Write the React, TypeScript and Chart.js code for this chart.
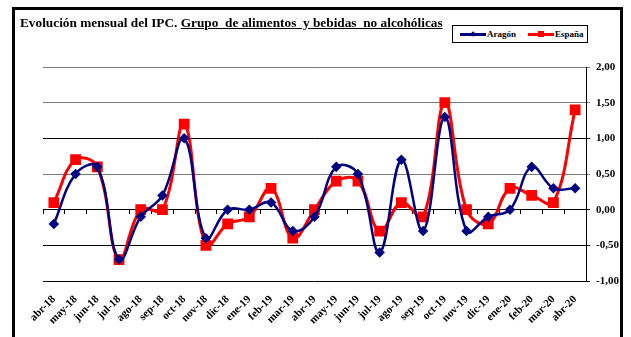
import React, { useEffect, useRef } from 'react';
import { Chart, registerables } from 'chart.js';

Chart.register(...registerables);

const months = [
  'abr-18', 'may-18', 'jun-18', 'jul-18', 'ago-18', 'sep-18', 'oct-18', 'nov-18', 'dic-18',
  'ene-19', 'feb-19', 'mar-19', 'abr-19', 'may-19', 'jun-19', 'jul-19', 'ago-19', 'sep-19',
  'oct-19', 'nov-19', 'dic-19', 'ene-20', 'feb-20', 'mar-20', 'abr-20',
];
const aragon = [
  -0.2, 0.5, 0.6, -0.7, -0.1, 0.2, 1.0, -0.4, 0.0,
  0.0, 0.1, -0.3, -0.1, 0.6, 0.5, -0.6, 0.7, -0.3,
  1.3, -0.3, -0.1, 0.0, 0.6, 0.3, 0.3,
];
const espana = [
  0.1, 0.7, 0.6, -0.7, 0.0, 0.0, 1.2, -0.5, -0.2,
  -0.1, 0.3, -0.4, 0.0, 0.4, 0.4, -0.3, 0.1, -0.1,
  1.5, 0.0, -0.2, 0.3, 0.2, 0.1, 1.4,
];
const seriesNames = ['Aragón', 'España'];
const seriesColors = ['#000080', '#FF0000'];
const yMin = -1;
const yMax = 2;
const yStep = 0.5;
const titlePlain = 'Evolución mensual del IPC.';
const titleUnderlined = 'Grupo  de alimentos  y bebidas  no alcohólicas';

const FONT = '"Liberation Serif", "Times New Roman", serif';

export default function App() {
  const canvasRef = useRef<HTMLCanvasElement | null>(null);

  useEffect(() => {
    const canvas = canvasRef.current;
    if (!canvas) return;
    const chart = new Chart(canvas, {
      type: 'line',
      data: {
        labels: months,
        datasets: [
          {
            label: seriesNames[0],
            data: aragon,
            borderColor: seriesColors[0],
            backgroundColor: seriesColors[0],
            borderWidth: 2.5,
            pointStyle: 'rectRot',
            pointRadius: 3.5,
            tension: 0.4,
            xAxisID: 'x',
          },
          {
            label: seriesNames[1],
            data: espana,
            borderColor: seriesColors[1],
            backgroundColor: seriesColors[1],
            borderWidth: 3,
            pointStyle: 'rect',
            pointRadius: 5.5,
            tension: 0.4,
            xAxisID: 'x',
          },
        ],
      },
      options: {
        responsive: false,
        animation: false,
        devicePixelRatio: 1,
        layout: { padding: { left: 43, top: 67, right: 0, bottom: 0 } },
        plugins: {
          legend: { display: false },
          title: { display: false },
          tooltip: { enabled: false },
        },
        font: { family: FONT },
        scales: {
          x: {
            type: 'category',
            position: 'bottom',
            offset: true,
            grid: { display: false },
            border: { display: false },
            ticks: {
              autoSkip: false,
              maxRotation: 45,
              minRotation: 45,
              padding: 4,
              color: '#000',
              font: { family: FONT, size: 11, weight: 'bold' },
            },
            afterFit: (s: any) => {
              s.height = 56;
            },
          },
          x2: {
            type: 'category',
            axis: 'x',
            position: { y: 0 },
            offset: true,
            grid: {
              offset: true,
              drawOnChartArea: false,
              drawTicks: true,
              tickLength: 4,
              color: '#000',
            },
            border: { display: true, color: '#000', width: 1 },
            ticks: { display: false },
          },
          y: {
            position: 'right',
            min: yMin,
            max: yMax,
            grid: {
              color: (ctx: any) => {
                const v = ctx.tick ? ctx.tick.value : 0;
                if (v === 2 || v === 1.5 || v === 0.5) return '#7a7a7a';
                return '#000';
              },
              lineWidth: 1,
              tickLength: 4,
            },
            border: { display: true, color: '#000', width: 1 },
            ticks: {
              stepSize: yStep,
              padding: 6,
              color: '#000',
              font: { family: FONT, size: 11, weight: 'bold' },
              callback: (v: any) => Number(v).toFixed(2).replace('.', ','),
            },
            afterFit: (s: any) => {
              s.width = 45;
            },
          },
        },
      } as any,
    });
    return () => chart.destroy();
  }, []);

  const legendItem = (i: number) => (
    <div key={i} style={{ display: 'flex', alignItems: 'center', marginRight: i === 0 ? 12 : 0 }}>
      <div style={{ position: 'relative', width: 26, height: 8 }}>
        <div
          style={{
            position: 'absolute',
            left: 0,
            top: 3,
            width: 26,
            height: 2.5,
            background: seriesColors[i],
          }}
        />
        <div
          style={{
            position: 'absolute',
            left: i === 0 ? 11 : 10,
            top: i === 0 ? 2 : 1,
            width: i === 0 ? 4 : 6,
            height: i === 0 ? 4 : 6,
            background: seriesColors[i],
            transform: i === 0 ? 'rotate(45deg)' : 'none',
          }}
        />
      </div>
      <span style={{ fontFamily: FONT, fontWeight: 'bold', fontSize: 9, marginLeft: 1 }}>
        {seriesNames[i]}
      </span>
    </div>
  );

  return (
    <div
      style={{
        position: 'fixed',
        left: 0,
        top: 0,
        width: 631,
        height: 337,
        overflow: 'hidden',
        background: '#fff',
      }}
    >
      <div
        style={{
          position: 'absolute',
          left: 12,
          top: 7,
          width: 611,
          height: 400,
          border: '3px solid #000',
          boxSizing: 'border-box',
        }}
      />
      <canvas
        ref={canvasRef}
        width={631}
        height={337}
        style={{ position: 'absolute', left: 0, top: 0, width: 631, height: 337 }}
      />
      <div
        style={{
          position: 'absolute',
          left: 20,
          top: 14.5,
          fontFamily: FONT,
          fontWeight: 'bold',
          fontSize: 13.3,
          lineHeight: '16px',
          whiteSpace: 'pre',
          color: '#000',
        }}
      >
        {titlePlain + ' '}
        <span style={{ textDecoration: 'underline' }}>{titleUnderlined}</span>
      </div>
      <div
        style={{
          position: 'absolute',
          left: 452,
          top: 25,
          width: 136,
          height: 18,
          border: '1px solid #000',
          boxSizing: 'border-box',
          background: '#fff',
          display: 'flex',
          alignItems: 'center',
          paddingLeft: 7,
        }}
      >
        {legendItem(0)}
        {legendItem(1)}
      </div>
    </div>
  );
}
